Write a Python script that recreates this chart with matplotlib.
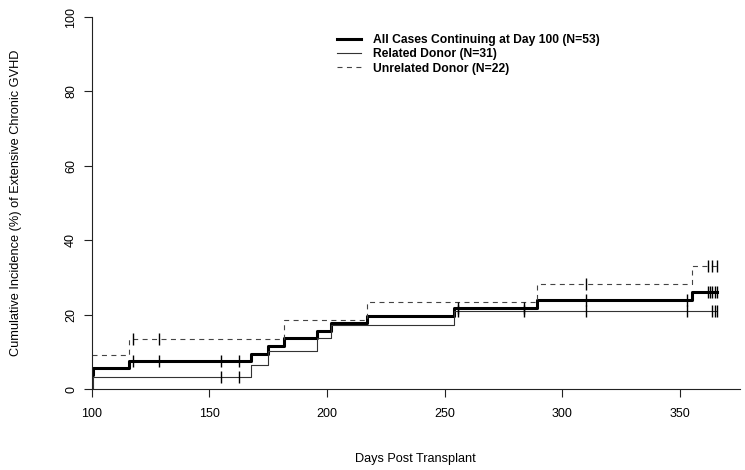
import matplotlib
matplotlib.use("Agg")
import matplotlib.pyplot as plt

plt.rcParams['font.family'] = ['Liberation Sans', 'DejaVu Sans']

# step curves (time, cumulative incidence %)
all_t = [100, 100.7, 116, 167.7, 175.0, 181.7, 195.6, 201.7, 216.9, 254.0, 289.1, 355.0, 365.9]
all_v = [3.8, 5.8, 7.7, 9.6, 11.7, 13.7, 15.6, 17.7, 19.8, 21.9, 24.0, 26.1, 26.1]
rel_t = [100, 100.7, 167.7, 175.0, 195.6, 201.7, 254.0, 365.9]
rel_v = [0.0, 3.4, 6.6, 10.2, 13.8, 17.2, 20.9, 20.9]
unr_t = [100, 116, 181.7, 216.9, 289.1, 355.0, 365.9]
unr_v = [9.1, 13.6, 18.6, 23.4, 28.4, 33.1, 33.1]

# censoring times
all_cens = [117.6, 128.6, 155.0, 162.6, 255.8, 283.9, 309.9, 352.9,
            362.0, 362.8, 363.7, 364.9, 365.9]
rel_cens = [155.0, 162.6, 255.8, 283.9, 309.9, 352.9, 363.7, 364.9, 365.9]
unr_cens = [117.6, 128.6, 309.9, 362.0, 363.7, 365.9]

labels = ['All Cases Continuing at Day 100 (N=53)',
          'Related Donor (N=31)',
          'Unrelated Donor (N=22)']


def value_at(ts, vs, t):
    v = vs[0]
    for ti, vi in zip(ts, vs):
        if ti <= t:
            v = vi
    return v


fig = plt.figure(figsize=(7.45, 4.7), dpi=100)
ax = fig.add_axes([91.7 / 745, 1 - 389.3 / 470, (740 - 91.7) / 745, (389.3 - 17) / 470])

dash = (0, (4.5, 4))
h1, = ax.plot(all_t, all_v, drawstyle='steps-post', color='black', lw=2.2)
h2, = ax.plot(rel_t, rel_v, drawstyle='steps-post', color='#333333', lw=0.8)
h3, = ax.plot(unr_t, unr_v, drawstyle='steps-post', color='#444444', lw=0.8, linestyle=dash)

for ts, vs, cens in [(all_t, all_v, all_cens), (rel_t, rel_v, rel_cens), (unr_t, unr_v, unr_cens)]:
    ys = [value_at(ts, vs, c) for c in cens]
    ax.plot(cens, ys, linestyle='none', marker='|', markersize=8, markeredgewidth=1.0, color='black')

ax.set_xlim(100, 375.5)
ax.set_ylim(0, 100)
ax.set_xticks([100, 150, 200, 250, 300, 350])
ax.set_yticks([0, 20, 40, 60, 80, 100])
ax.spines['top'].set_visible(False)
ax.spines['right'].set_visible(False)
for s in ['left', 'bottom']:
    ax.spines[s].set_linewidth(0.8)
    ax.spines[s].set_color('#222222')
ax.tick_params(length=5.5, width=0.8, color='#222222', labelsize=9)
ax.tick_params(axis='x', pad=8)
ax.tick_params(axis='y', pad=5)
for lab in ax.get_yticklabels():
    lab.set_rotation(90)
    lab.set_va('center')

ax.set_xlabel('Days Post Transplant', fontsize=9.2, labelpad=24)
ax.set_ylabel('Cumulative Incidence (%) of Extensive Chronic GVHD', fontsize=9.2, labelpad=31)

leg = ax.legend([h1, h2, h3], labels, loc='upper left', bbox_to_anchor=(0.362, 0.984),
                frameon=False, handlelength=2.0, handletextpad=0.95, labelspacing=0.2,
                prop={'weight': 'bold', 'size': 8.7})

fig.savefig('out.png', dpi=100)
